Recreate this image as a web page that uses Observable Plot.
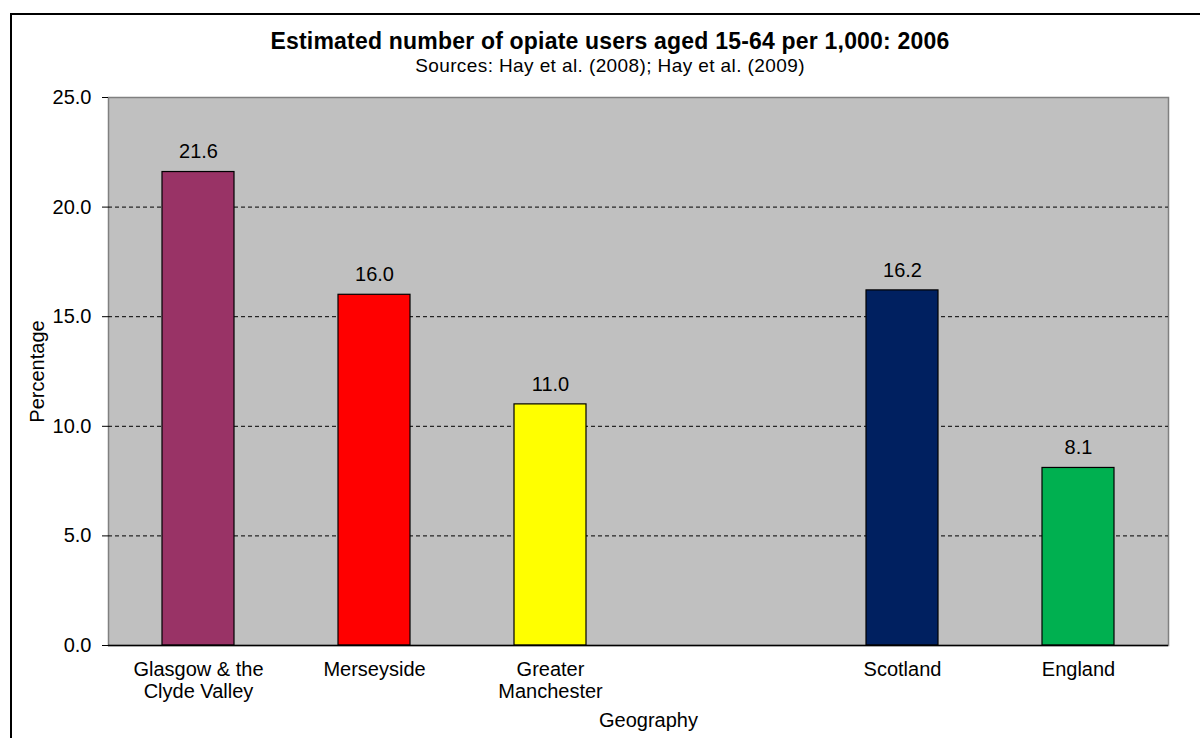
<!DOCTYPE html>
<html>
<head>
<meta charset="utf-8">
<script src="https://cdn.jsdelivr.net/npm/d3@7"></script>
<script src="https://cdn.jsdelivr.net/npm/@observablehq/plot@0.6"></script>
<style>
  html, body { margin: 0; padding: 0; background: #fff; overflow: hidden; }
  #wrap { position: relative; width: 1200px; height: 738px; font-family: "Liberation Sans", Arial, sans-serif; }
  #border { position: absolute; left: 10px; top: 13px; width: 1300px; height: 900px; border: 2px solid #000; box-sizing: border-box; }
  #title { position: absolute; left: 0; width: 1220px; top: 30px; line-height: 1; text-align: center; font-weight: bold; font-size: 23px; letter-spacing: 0.2px; color: #000; }
  #subtitle { position: absolute; left: 0; width: 1220px; top: 56px; line-height: 1; text-align: center; font-size: 19px; letter-spacing: 0.4px; color: #000; }
  #chart { position: absolute; left: 0; top: 0; }
</style>
</head>
<body>
<div id="wrap">
  <div id="border"></div>
  <div id="title">Estimated number of opiate users aged 15-64 per 1,000: 2006</div>
  <div id="subtitle">Sources: Hay et al. (2008); Hay et al. (2009)</div>
  <div id="chart"></div>
</div>
<script>
// Areas and their estimated rates
const categories = ["Glasgow & the\nClyde Valley", "Merseyside", "Greater\nManchester", "Scotland", "England"];
const values = [21.6, 16.0, 11.0, 16.2, 8.1];
const colors = ["#993366", "#ff0000", "#ffff00", "#002060", "#00b050"];
const yTicks = [0, 5, 10, 15, 20, 25];
const gridLines = [5, 10, 15, 20];

// A blank slot separates the city regions from the national figures
const xDomain = [categories[0], categories[1], categories[2], " ", categories[3], categories[4]];

const data = categories.map((c, i) => ({category: c, value: values[i], color: colors[i]}));

const chart = Plot.plot({
  width: 1200,
  height: 738,
  marginLeft: 108,
  marginRight: 32,
  marginTop: 97,
  marginBottom: 93,
  style: {fontFamily: "'Liberation Sans', Arial, sans-serif", fontSize: "20px", background: "transparent", color: "#000"},
  x: {domain: xDomain, paddingInner: 0.59, paddingOuter: 0.295, label: null},
  y: {domain: [0, 25], label: null},
  marks: [
    Plot.frame({fill: "#c0c0c0", stroke: "#808080", strokeWidth: 1.5}),
    Plot.ruleY(gridLines, {stroke: "#000", strokeWidth: 1, strokeDasharray: "4,3"}),
    Plot.barY(data, {x: "category", y: "value", fill: "color", stroke: "#000", strokeWidth: 1.2}),
    Plot.text(data, {x: "category", y: "value", text: d => d.value.toFixed(1), dy: -20, fontSize: 20, fill: "#000"}),
    Plot.ruleY([0], {stroke: "#000", strokeWidth: 1.5}),
    Plot.axisY({ticks: yTicks, tickFormat: d => d.toFixed(1), tickSize: 6, tickPadding: 11, fontSize: 20, line: true, stroke: "#000", label: null}),
    Plot.axisX({ticks: categories, tickSize: 0, tickPadding: 14, fontSize: 20, lineHeight: 1.13, label: null}),
    Plot.text(["Percentage"], {frameAnchor: "left", dx: -71, rotate: -90, textAnchor: "middle", fontSize: 20, fill: "#000"}),
    Plot.text(["Geography"], {frameAnchor: "bottom", dx: 10, dy: 81, fontSize: 20, fill: "#000"})
  ]
});
document.getElementById("chart").appendChild(chart);
</script>
</body>
</html>
